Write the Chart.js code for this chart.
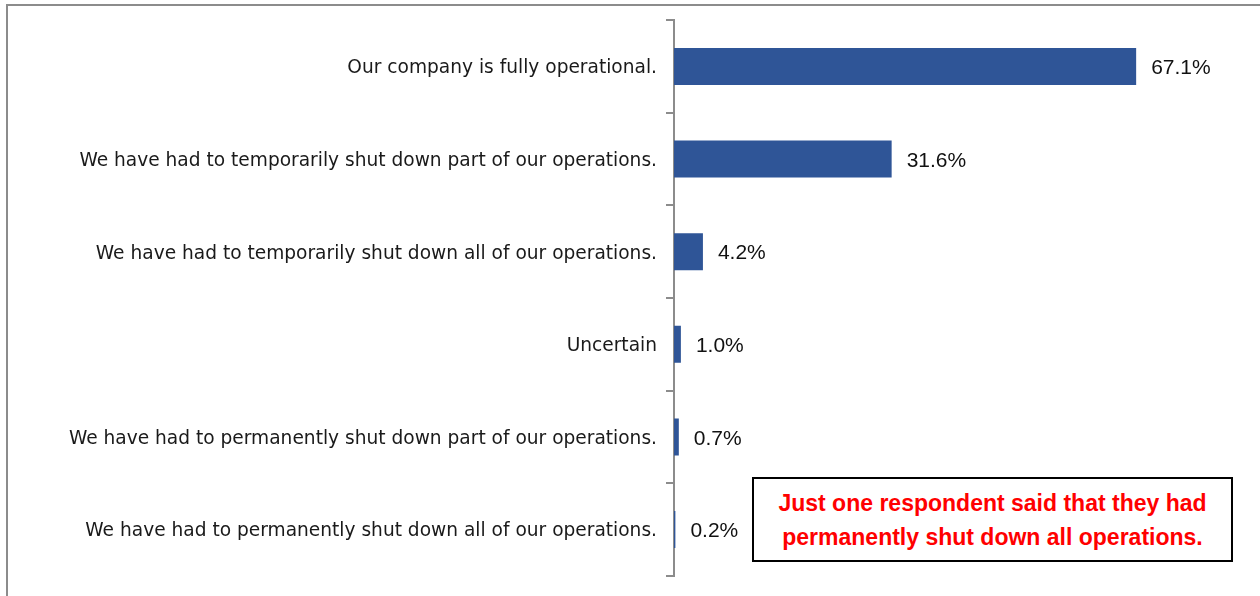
<!DOCTYPE html>
<html>
<head>
<meta charset="utf-8">
<script src="https://cdn.jsdelivr.net/npm/chart.js@4.4.1/dist/chart.umd.min.js"></script>
<style>
  html, body { margin: 0; padding: 0; background: #fff; }
  #wrap { position: relative; width: 1260px; height: 596px; overflow: hidden; }
  #frame {
    position: absolute; left: 6px; top: 4px; width: 1400px; height: 800px;
    border-left: 2px solid #8c8c8c; border-top: 2px solid #8c8c8c;
  }
  #chart { position: absolute; left: 0; top: 0; }
  #note {
    position: absolute; left: 752px; top: 477px; width: 477px; height: 81px;
    border: 2px solid #000; background: #fff;
    color: #ff0000; font-family: "Liberation Sans", Arial, sans-serif; font-weight: bold;
    font-size: 23px; line-height: 34px; text-align: center;
    display: flex; align-items: center; justify-content: center;
  }
</style>
</head>
<body>
<div id="wrap">
  <div id="frame"></div>
  <canvas id="chart" width="1260" height="596"></canvas>
  <div id="note">Just one respondent said that they had<br>permanently shut down all operations.</div>
</div>
<script>
// Survey answers and their shares (%)
const categories = [
  'Our company is fully operational.',
  'We have had to temporarily shut down part of our operations.',
  'We have had to temporarily shut down all of our operations.',
  'Uncertain',
  'We have had to permanently shut down part of our operations.',
  'We have had to permanently shut down all of our operations.'
];
const shares = [67.1, 31.6, 4.2, 1.0, 0.7, 0.2];

const AXIS_GRAY = '#8c8c8c';
const BAR_BLUE = '#2f5597';

// draw the percentage next to each bar
const valueLabels = {
  id: 'valueLabels',
  afterDatasetsDraw(chart) {
    const ctx = chart.ctx;
    const meta = chart.getDatasetMeta(0);
    ctx.save();
    ctx.font = '21px "Liberation Sans", Arial, sans-serif';
    ctx.fillStyle = '#111';
    ctx.textAlign = 'left';
    ctx.textBaseline = 'middle';
    meta.data.forEach((bar, i) => {
      ctx.fillText(shares[i].toFixed(1) + '%', bar.x + 15, bar.y + 2);
    });
    ctx.restore();
  }
};

new Chart(document.getElementById('chart'), {
  type: 'bar',
  data: {
    labels: categories,
    datasets: [{
      data: shares,
      backgroundColor: BAR_BLUE,
      borderWidth: 0,
      barPercentage: 0.4,
      categoryPercentage: 1.0
    }]
  },
  options: {
    indexAxis: 'y',
    responsive: false,
    animation: false,
    layout: { padding: { left: 0, right: 35, top: 20, bottom: 20 } },
    plugins: {
      legend: { display: false },
      tooltip: { enabled: false }
    },
    scales: {
      x: {
        display: false,
        min: 0,
        max: 80
      },
      y: {
        afterFit(scale) { scale.width = 674; },
        grid: {
          display: true,
          drawOnChartArea: false,
          drawTicks: true,
          tickLength: 8,
          offset: true,
          color: AXIS_GRAY,
          lineWidth: 2
        },
        border: { display: true, color: AXIS_GRAY, width: 2 },
        ticks: {
          padding: 9,
          labelOffset: 2,
          color: '#1a1a1a',
          font: { family: '"DejaVu Sans", Verdana, sans-serif', size: 18.6 }
        }
      }
    }
  },
  plugins: [valueLabels]
});
</script>
</body>
</html>
